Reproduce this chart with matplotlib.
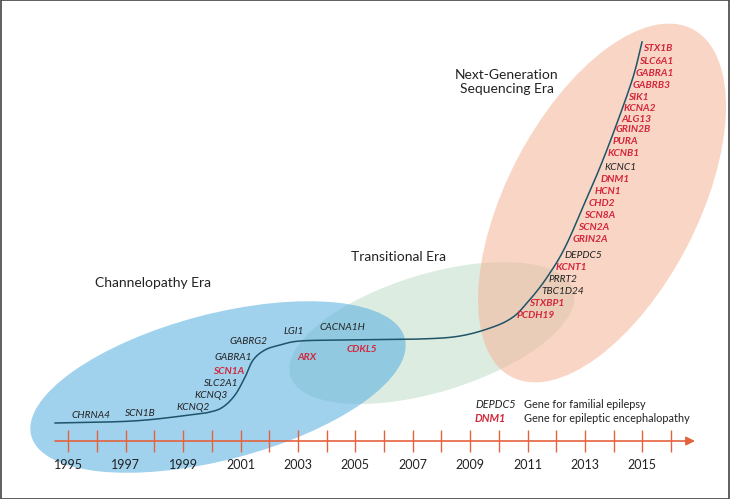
import numpy as np
import matplotlib
matplotlib.use("Agg")
import matplotlib.pyplot as plt
from matplotlib.patches import Ellipse, Rectangle
from matplotlib.transforms import Affine2D

plt.rcParams["font.family"] = ["Lato", "DejaVu Sans"]

# timeline
years = list(range(1995, 2017))
year_labels = [str(y) for y in range(1995, 2016, 2)]

# gene discovery curve (year, height on the page)
curve_year = [1994.54, 1997.25, 1999.24, 1999.94, 2000.39, 2000.81, 2001.16,
              2001.44, 2001.85, 2002.38, 2003.07, 2004.57, 2007.25, 2008.65,
              2009.80, 2010.50, 2010.98, 2011.44, 2011.78, 2012.13, 2012.48,
              2012.93, 2013.53, 2014.12, 2014.68, 2014.99]
curve_level = [423, 421, 415, 412, 407, 395, 377, 360, 350, 345, 341, 340,
               339, 336, 327, 317, 303, 287, 273, 257, 237, 207, 167, 123,
               77, 42]

# genes: False = familial epilepsy, True = epileptic encephalopathy
left_genes = ["CHRNA4", "SCN1B", "KCNQ2", "KCNQ3", "SLC2A1", "SCN1A",
              "GABRA1", "GABRG2", "LGI1", "CACNA1H", "ARX", "CDKL5"]
left_ee = [False, False, False, False, False, True,
           False, False, False, False, True, True]
right_genes = ["STX1B", "SLC6A1", "GABRA1", "GABRB3", "SIK1", "KCNA2",
               "ALG13", "GRIN2B", "PURA", "KCNB1", "KCNC1", "DNM1", "HCN1",
               "CHD2", "SCN8A", "SCN2A", "GRIN2A", "DEPDC5", "KCNT1",
               "PRRT2", "TBC1D24", "STXBP1", "PCDH19"]
right_ee = [True, True, True, True, True, True, True, True, True, True,
            False, True, True, True, True, True, True, False, True,
            False, False, True, True]

# label anchors in page pixels
left_pos = [(91, 416), (140, 414), (193, 407), (211, 395), (221, 383),
            (229, 371), (233, 358), (248, 341), (294, 332), (342, 327),
            (307, 357), (362, 350)]
right_pos = [(643, 48), (639, 61), (636, 73), (633, 85), (628, 97),
             (624, 108), (621, 119), (616, 130), (613, 142), (608, 154),
             (604, 167), (601, 179), (595, 192), (589, 203), (584, 216),
             (578, 228), (573, 240), (564, 255), (556, 268), (548, 279),
             (541, 291), (529, 303), (517, 315)]

RED = "#d3263a"
INK = "#222222"
AXIS = "#e5623f"
X_PX0, PX_PER_YEAR = 68.3, 28.7


def catmull_rom(xs, ys, n=30):
    p = np.column_stack([xs, ys]).astype(float)
    p = np.vstack([2 * p[0] - p[1], p, 2 * p[-1] - p[-2]])
    out = []
    for i in range(1, len(p) - 2):
        p0, p1, p2, p3 = p[i - 1], p[i], p[i + 1], p[i + 2]
        t = np.linspace(0, 1, n, endpoint=False)[:, None]
        out.append(0.5 * ((2 * p1) + (-p0 + p2) * t
                          + (2 * p0 - 5 * p1 + 4 * p2 - p3) * t ** 2
                          + (-p0 + 3 * p1 - 3 * p2 + p3) * t ** 3))
    out.append(p[-2][None, :])
    out = np.vstack(out)
    return out[:, 0], out[:, 1]


fig = plt.figure(figsize=(7.3, 4.99), dpi=100)
ax = fig.add_axes([0, 0, 1, 1])
ax.set_xlim(1995 - X_PX0 / PX_PER_YEAR, 1995 + (730 - X_PX0) / PX_PER_YEAR)
ax.set_ylim(499, 0)
ax.axis("off")

# page-pixel transform for layout items
px = Affine2D().translate(-X_PX0, 0).scale(1 / PX_PER_YEAR, 1).translate(1995, 0) + ax.transData

# era ellipses
ax.add_patch(Ellipse((432, 333), 296, 118, angle=-16.9, transform=px,
                     facecolor="#dcece0", edgecolor="none", zorder=1))
ax.add_patch(Ellipse((218, 387), 386, 146, angle=-14.6, transform=px,
                     facecolor=(82/255, 173/255, 224/255), alpha=0.55,
                     edgecolor="none", zorder=2))
ax.add_patch(Ellipse((602, 203), 392, 191, angle=-62.5, transform=px,
                     facecolor=(245/255, 185/255, 160/255), alpha=0.6,
                     edgecolor="none", zorder=3))

# curve
cx, cy = catmull_rom(curve_year, curve_level)
ax.plot(cx, cy, color="#1f5368", lw=1.1, zorder=5)

# era titles
ax.text(153, 283, "Channelopathy Era", transform=px, ha="center", va="center",
        fontsize=10, color=INK, zorder=6)
ax.text(398, 257, "Transitional Era", transform=px, ha="center", va="center",
        fontsize=10, color=INK, zorder=6)
ax.text(507, 82, "Next-Generation\nSequencing Era", transform=px, ha="center",
        va="center", fontsize=10, color=INK, linespacing=1.25, zorder=6)

# gene labels
for name, ee, (x, y) in zip(left_genes, left_ee, left_pos):
    ax.text(x, y, name, transform=px, ha="center", va="center", fontsize=7.3,
            style="italic", weight="bold" if ee else "normal",
            color=RED if ee else INK, zorder=6)
for name, ee, (x, y) in zip(right_genes, right_ee, right_pos):
    ax.text(x, y, name, transform=px, ha="left", va="center", fontsize=7.3,
            style="italic", weight="bold" if ee else "normal",
            color=RED if ee else INK, zorder=6)

# legend
ax.text(475, 405, "DEPDC5", transform=px, ha="left", va="center", fontsize=7.8,
        style="italic", color=INK, zorder=6)
ax.text(475, 419, "DNM1", transform=px, ha="left", va="center", fontsize=7.8,
        style="italic", weight="bold", color=RED, zorder=6)
ax.text(524, 405, "Gene for familial epilepsy", transform=px, ha="left",
        va="center", fontsize=7.8, color=INK, zorder=6)
ax.text(524, 419, "Gene for epileptic encephalopathy", transform=px, ha="left",
        va="center", fontsize=7.8, color=INK, zorder=6)

# timeline axis
y_axis = 441
x_start = 1995 - (X_PX0 - 55) / PX_PER_YEAR
x_end = 1995 + (695 - X_PX0) / PX_PER_YEAR
ax.annotate("", xy=(x_end, y_axis), xytext=(x_start, y_axis),
            arrowprops=dict(arrowstyle="-|>", color=AXIS, lw=1.2,
                            mutation_scale=13, shrinkA=0, shrinkB=0), zorder=7)
ax.vlines(years, y_axis - 11, y_axis + 11, color=AXIS, lw=1.0, zorder=7)
for lab in year_labels:
    ax.text(int(lab), 465, lab, ha="center", va="center", fontsize=9,
            color=INK, zorder=7)

# page frame
fig.patches.append(Rectangle((0.001, 0.001), 0.998, 0.998, transform=fig.transFigure,
                             fill=False, edgecolor="#444444", lw=1.2))

fig.savefig("out.png", dpi=100)
